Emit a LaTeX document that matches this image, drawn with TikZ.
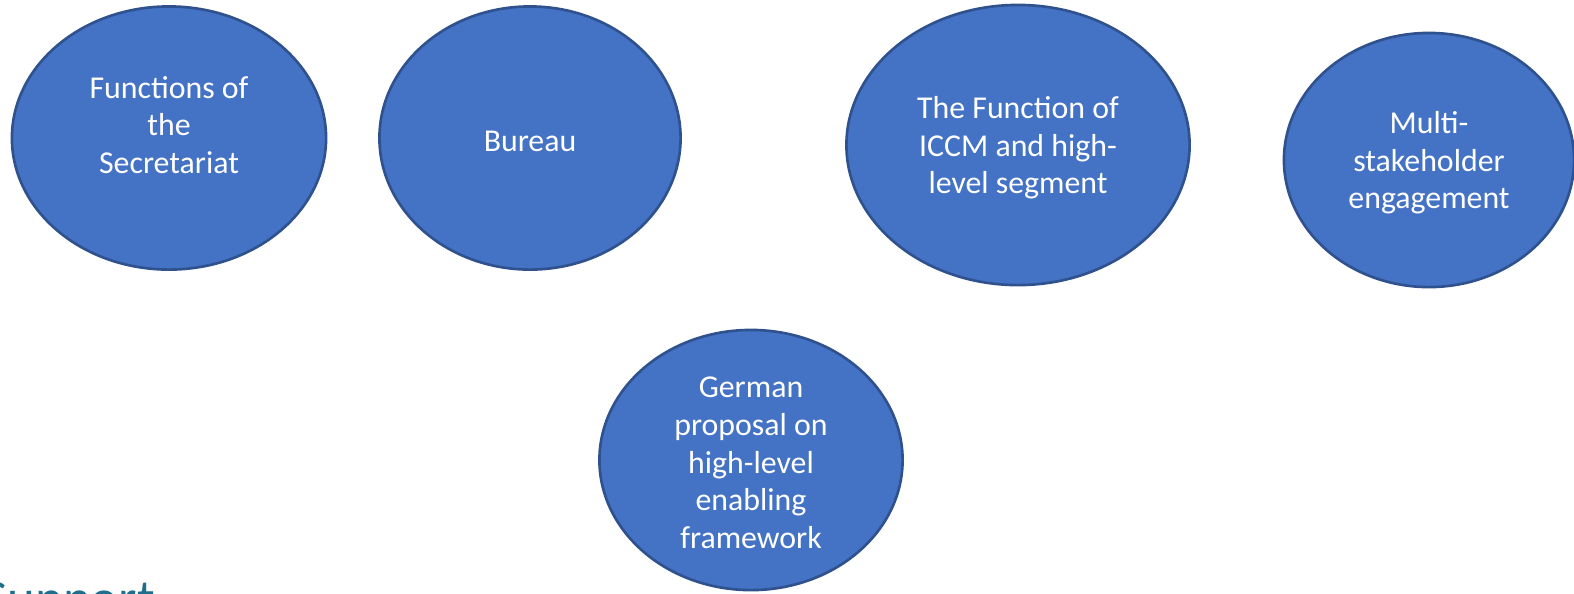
\documentclass[tikz,border=0pt]{standalone}
\usepackage{fontspec}
\setmainfont{Carlito}
\usetikzlibrary{shapes.geometric,positioning}
\definecolor{bubblefill}{HTML}{4472C4}
\definecolor{bubbleline}{HTML}{2F528F}
\definecolor{logoteal}{HTML}{1F6E8C}
\tikzset{bubble/.style={ellipse, draw=bubbleline, fill=bubblefill, line width=0.75pt,
                        inner sep=0pt},
         caption/.style={text=white, align=center, yshift=-0.03cm,
                         font=\fontsize{9.05}{10.7}\selectfont}}

\begin{document}
\begin{tikzpicture}[x=0.01cm, y=-0.01cm]
  \useasboundingbox (0,0) rectangle (1574,593);
  \clip (0,0) rectangle (1574,593);

  \node[bubble, minimum width=3.14cm, minimum height=2.63cm] (S) at (169,138) {};
  \node[bubble, minimum width=3.01cm, minimum height=2.63cm] (B) at (530,138) {};
  \node[bubble, minimum width=3.43cm, minimum height=2.80cm] (I) at (1018,145) {};
  \node[bubble, minimum width=2.90cm, minimum height=2.54cm] (M) at (1429,160) {};
  \node[bubble, minimum width=3.03cm, minimum height=2.60cm] (G) at (751,460) {};

  \node[caption] (S') at ([yshift=0.16cm]S.center) {Functions of\\the\\Secretariat};
  \node[caption] (B') at (B.center) {Bureau};
  \node[caption] (I') at (I.center) {The Function of\\ICCM and high-\\level segment};
  \node[caption] (M') at (M.center) {Multi-\\stakeholder\\engagement};
  \node[caption] (G') at (G.center) {German\\proposal on\\high-level\\enabling\\framework};

  % cut-off word at the lower left
  \node[anchor=base west, inner sep=0pt, text=logoteal, font=\fontsize{15}{18}\selectfont]
    (L) at (-17,616) {Support};

\end{tikzpicture}
\end{document}
